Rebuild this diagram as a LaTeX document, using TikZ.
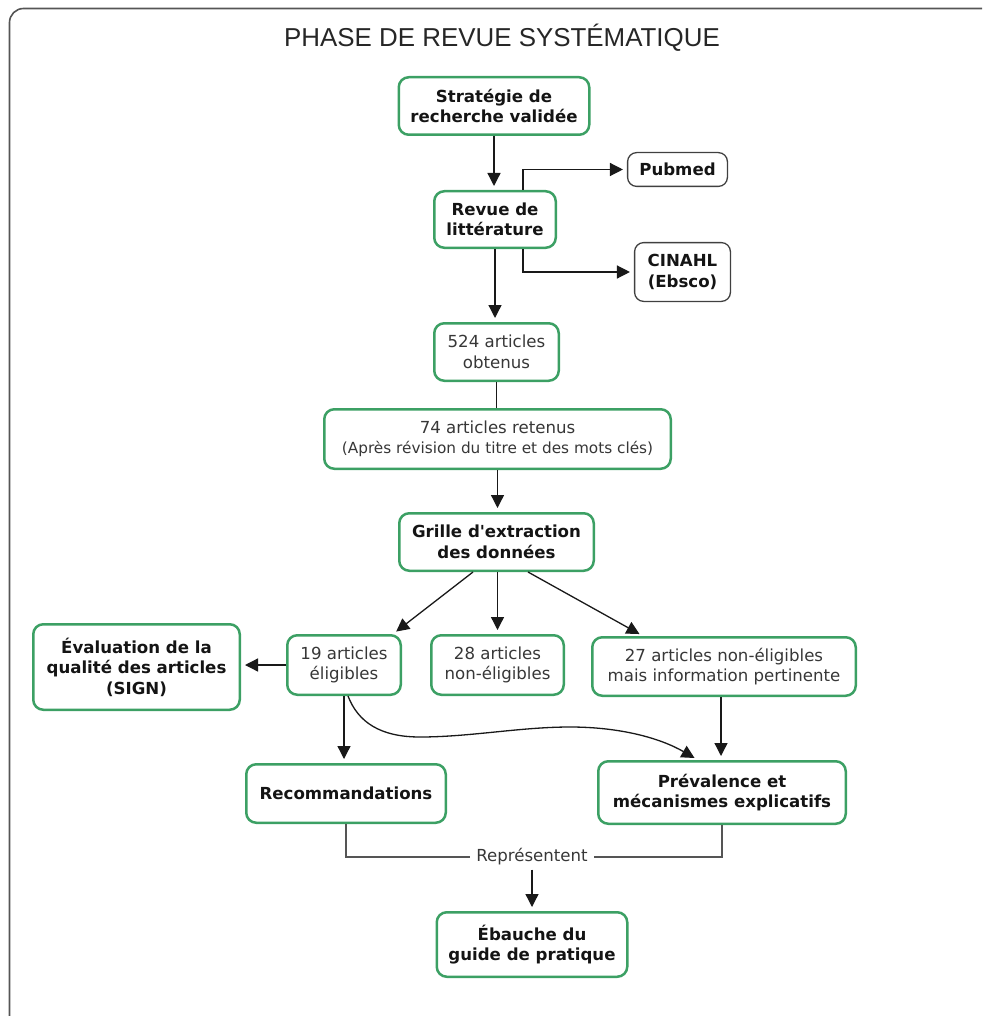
\documentclass[tikz,border=0pt]{standalone}
\usepackage{fontspec}
\setmainfont{DejaVu Sans}[Ligatures=TeXOff]
\newfontfamily\titlefont{Liberation Sans}
\usetikzlibrary{arrows.meta}
\definecolor{boxgreen}{RGB}{60,160,100}
\definecolor{txtgray}{RGB}{55,55,55}
\definecolor{framegray}{RGB}{85,85,85}
\definecolor{linegray}{RGB}{25,25,25}
\begin{document}
\begin{tikzpicture}[x=1pt,y=-1pt,
  gbox/.style={draw=boxgreen, line width=2.5pt, rounded corners=10pt, fill=white, align=center, inner sep=0pt, text=txtgray, font=\fontsize{16.6}{20.5}\selectfont},
  gboxb/.style={gbox, text=black!92, font=\fontsize{16.6}{20.5}\selectfont\bfseries},
  kbox/.style={draw=black!75, line width=1.3pt, rounded corners=9pt, fill=white, align=center, inner sep=0pt, text=black!92, font=\fontsize{16.6}{20.5}\selectfont\bfseries},
  arr/.style={draw=linegray, line width=1.3pt, -{Triangle[length=13pt,width=13pt]}, shorten >=4pt},
  plainline/.style={draw=framegray, line width=1.3pt},
]
\useasboundingbox (0,0) rectangle (982,1016);
\begin{scope}
  \clip (0,0) rectangle (982,1016);
  \draw[framegray, line width=1.6pt, rounded corners=14pt] (9.5,8.5) rectangle (1100,1120);
\end{scope}

\node[font=\titlefont\fontsize{25.9}{30}\selectfont, text=black!85] (title) at (502,38) {PHASE DE REVUE SYSTÉMATIQUE};

\node[gboxb, minimum width=190.5pt, minimum height=57.5pt] (strat) at (494,106) {Stratégie de\\recherche validée};
\node[kbox, minimum width=99.8pt, minimum height=33.8pt] (pub) at (677.5,169.5) {Pubmed};
\node[gboxb, minimum width=121.5pt, minimum height=56.5pt] (revue) at (495,219.5) {Revue de\\littérature};
\node[kbox, minimum width=95.8pt, minimum height=58.8pt] (cin) at (682.5,272) {CINAHL\\(Ebsco)};
\node[gbox, minimum width=124.5pt, minimum height=57.5pt] (a524) at (496.5,352) {524 articles\\obtenus};
\node[gbox, minimum width=346.5pt, minimum height=59.5pt] (a74) at (497.5,439) {74 articles retenus\\{\fontsize{15.3}{20.5}\selectfont(Après révision du titre et des mots clés)}};
\node[gboxb, minimum width=194.5pt, minimum height=57.5pt] (grille) at (496.5,542) {Grille d'extraction\\des données};
\node[gboxb, minimum width=206.5pt, minimum height=85.5pt] (eval) at (136.5,667) {Évaluation de la\\qualité des articles\\(SIGN)};
\node[gbox, minimum width=113.5pt, minimum height=59.5pt] (a19) at (344,665) {19 articles\\éligibles};
\node[gbox, minimum width=132.5pt, minimum height=59.5pt] (a28) at (497.5,665) {28 articles\\non-éligibles};
\node[gbox, minimum width=263.5pt, minimum height=58.5pt] (a27) at (724,666.5) {27 articles non-éligibles\\mais information pertinente};
\node[gboxb, minimum width=199.5pt, minimum height=58.5pt] (recom) at (346,793.5) {Recommandations};
\node[gboxb, minimum width=247.5pt, minimum height=62.5pt] (prev) at (722,792.5) {Prévalence et\\mécanismes explicatifs};
\node[font=\fontsize{16.6}{20}\selectfont, text=txtgray, inner xsep=6pt, inner ysep=4pt] (repr) at (532,857) {Représentent};
\node[gboxb, minimum width=190.5pt, minimum height=64.5pt] (ebauche) at (532,944.5) {Ébauche du\\guide de pratique};

\draw[arr] (strat.south) -- (strat.south |- revue.north);
\draw[arr] ([xshift=28pt]revue.north) |- (pub.west);
\draw[arr] ([xshift=28pt]revue.south) |- (cin.west);
\draw[arr] (revue.south) -- (revue.south |- a524.north);
\draw[plainline, draw=linegray] (a524.south) -- (a524.south |- a74.north);
\draw[arr] (a74.south) -- (a74.south |- grille.north);
\draw[arr] ([xshift=-23.5pt]grille.south) -- ([xshift=49pt]a19.north);
\draw[arr] ([xshift=1pt]grille.south) -- (a28.north);
\draw[arr] ([xshift=31.5pt]grille.south) -- ([xshift=-81pt]a27.north);
\draw[arr] (a19.west) -- (a19.west -| eval.east);
\draw[arr] (a19.south) -- (a19.south |- recom.north);
\draw[arr] ([xshift=4pt]a19.south) .. controls (358,722) and (380,737) .. (420,737) .. controls (470,737) and (520,727) .. (570,727) .. controls (620,727) and (660,738) .. ([xshift=-24pt]prev.north);
\draw[arr] ([xshift=-3pt]a27.south) -- ([xshift=-3pt]a27.south |- prev.north);
\draw[plainline] (recom.south) |- (repr.west);
\draw[plainline] (prev.south) |- (repr.east);
\draw[arr] (repr.south) -- (repr.south |- ebauche.north);
\end{tikzpicture}
\end{document}
